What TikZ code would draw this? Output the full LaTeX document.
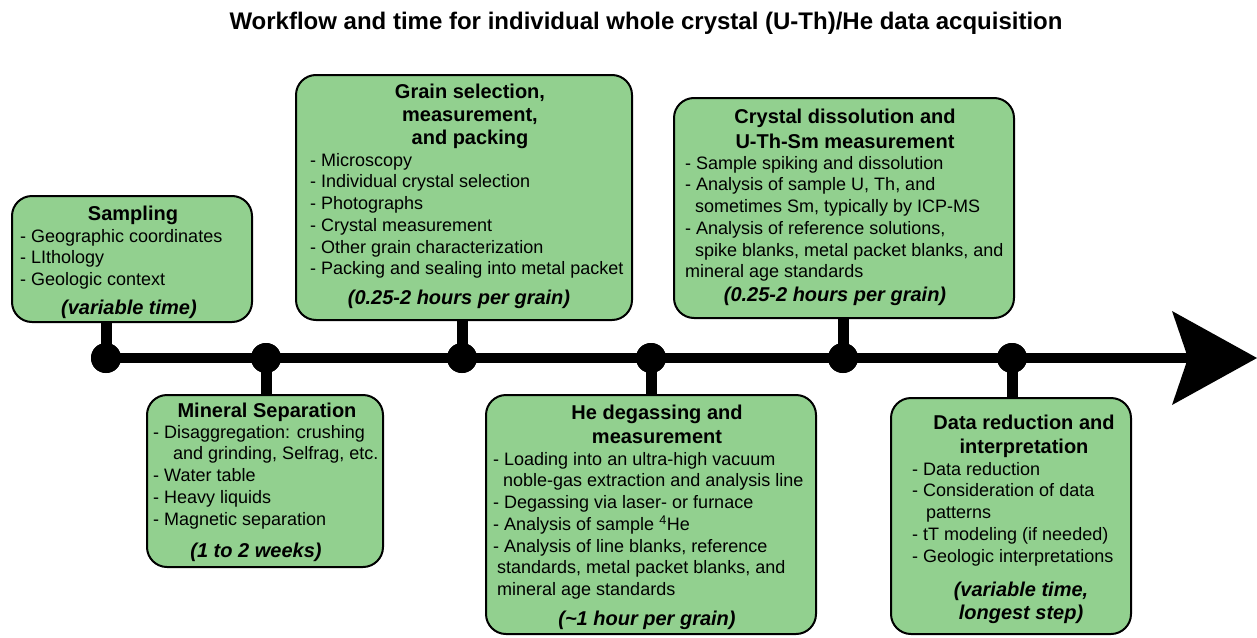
\documentclass[tikz,border=0pt]{standalone}
\usepackage{fontspec}
\setmainfont{Liberation Sans}
\definecolor{boxgreen}{RGB}{146,208,143}
\newcommand{\bstrut}{\rule{0pt}{14pt}}
\newcommand{\hstrut}{\rule{0pt}{15pt}}
\begin{document}
\begin{tikzpicture}[x=1pt,y=-1pt,
  stepbox/.style={rectangle, draw=black, line width=2pt, fill=boxgreen, rounded corners=20pt, inner sep=0pt},
  head/.style={font=\fontsize{20}{24}\selectfont\bfseries, align=center, inner sep=0pt, anchor=north},
  body/.style={font=\fontsize{18}{21.75}\selectfont, align=left, inner sep=0pt, anchor=north west},
  timetext/.style={font=\fontsize{20}{23}\selectfont\bfseries\itshape, align=center, inner sep=0pt, anchor=north},
  dot/.style={circle, fill=black, inner sep=0pt, minimum size=30pt},
  stem/.style={line width=11pt},
  axis/.style={line width=10pt}
]
\useasboundingbox (0,0) rectangle (1257,637);

% title
\node[font=\fontsize{24}{28}\selectfont\bfseries, anchor=base, inner sep=0pt] (title) at (646,29)
  {Workflow and time for individual whole crystal (U-Th)/He data acquisition};

% boxes
\node[stepbox, minimum width=240pt, minimum height=126pt] (b1) at (132,259) {};
\node[stepbox, minimum width=236pt, minimum height=172pt] (b2) at (265,481) {};
\node[stepbox, minimum width=336pt, minimum height=245pt] (b3) at (464,197.5) {};
\node[stepbox, minimum width=340pt, minimum height=220pt] (b4) at (844,208) {};
\node[stepbox, minimum width=330pt, minimum height=239pt] (b5) at (651,514.5) {};
\node[stepbox, minimum width=240pt, minimum height=236pt] (b6) at (1011,516) {};

% timeline
\coordinate (tip) at (1257,358);
\coordinate (notch) at (1188,358);
\coordinate (wingtop) at (1172,311);
\coordinate (wingbot) at (1172,405);
\node[dot] (d1) at (106,358) {};
\node[dot] (d2) at (266,358) {};
\node[dot] (d3) at (462,358) {};
\node[dot] (d4) at (651,358) {};
\node[dot] (d5) at (843,358) {};
\node[dot] (d6) at (1012,358) {};
\draw[axis] (d1.center) -- (notch);
\fill (tip) -- (wingtop) -- (notch) -- (wingbot) -- cycle;
\draw[stem] (d1.center) -- (d1.center |- b1.south);
\draw[stem] (d2.center) -- (d2.center |- b2.north);
\draw[stem] (d3.center) -- (d3.center |- b3.south);
\draw[stem] (d4.center) -- (d4.center |- b5.north);
\draw[stem] (d5.center) -- (d5.center |- b4.south);
\draw[stem] (d6.center) -- (d6.center |- b6.north);
\foreach \d in {d1,d2,d3,d4,d5,d6} \fill (\d) circle (15pt);

% Sampling
\node[head] (h1) at (133,205) {\hstrut Sampling};
\node[body] (t1) at (20,228) {\bstrut - Geographic coordinates\\- LIthology\\- Geologic context};
\node[timetext] (p1) at (129,299) {\hstrut(variable time)};

% Mineral separation
\node[head] (h2) at (267,402) {\hstrut Mineral Separation};
\node[body] (t2) at (153,424) {\bstrut - Disaggregation: crushing\\\hspace*{20pt}and grinding, Selfrag, etc.\\- Water table\\- Heavy liquids\\- Magnetic separation};
\node[timetext] (p2) at (256,542) {\hstrut(1 to 2 weeks)};

% Grain selection
\node[head, font=\fontsize{20}{23}\selectfont\bfseries] (h3) at (470,83) {\hstrut Grain selection,\\measurement,\\and packing};
\node[body] (t3) at (310,152) {\bstrut - Microscopy\\- Individual crystal selection\\- Photographs\\- Crystal measurement\\- Other grain characterization\\- Packing and sealing into metal packet};
\node[timetext] (p3) at (459,289) {\hstrut(0.25-2 hours per grain)};

% Crystal dissolution
\node[head, font=\fontsize{20}{25}\selectfont\bfseries] (h4) at (845,108) {\hstrut Crystal dissolution and\\U-Th-Sm measurement};
\node[body] (t4) at (685,155) {\bstrut - Sample spiking and dissolution\\- Analysis of sample U, Th, and\\\hspace*{10pt}sometimes Sm, typically by ICP-MS\\- Analysis of reference solutions,\\\hspace*{10pt}spike blanks, metal packet blanks, and\\mineral age standards};
\node[timetext] (p4) at (835,286) {\hstrut(0.25-2 hours per grain)};

% He degassing
\node[head] (h5) at (657,404) {\hstrut He degassing and\\measurement};
\node[body] (t5) at (493,451) {\bstrut - Loading into an ultra-high vacuum\\\hspace*{10pt}noble-gas extraction and analysis line\\- Degassing via laser- or furnace\\- Analysis of sample \textsuperscript{4}He\\- Analysis of line blanks, reference\\\hspace*{4pt}standards, metal packet blanks, and\\\hspace*{4pt}mineral age standards};
\node[timetext] (p5) at (647,610) {\hstrut(\textasciitilde1 hour per grain)};

% Data reduction
\node[head] (h6) at (1024,414) {\hstrut Data reduction and\\interpretation};
\node[body] (t6) at (912,461) {\bstrut - Data reduction\\- Consideration of data\\\hspace*{14pt}patterns\\- tT modeling (if needed)\\- Geologic interpretations};
\node[timetext] (p6) at (1021,581) {\hstrut(variable time,\\longest step)};
\end{tikzpicture}
\end{document}
